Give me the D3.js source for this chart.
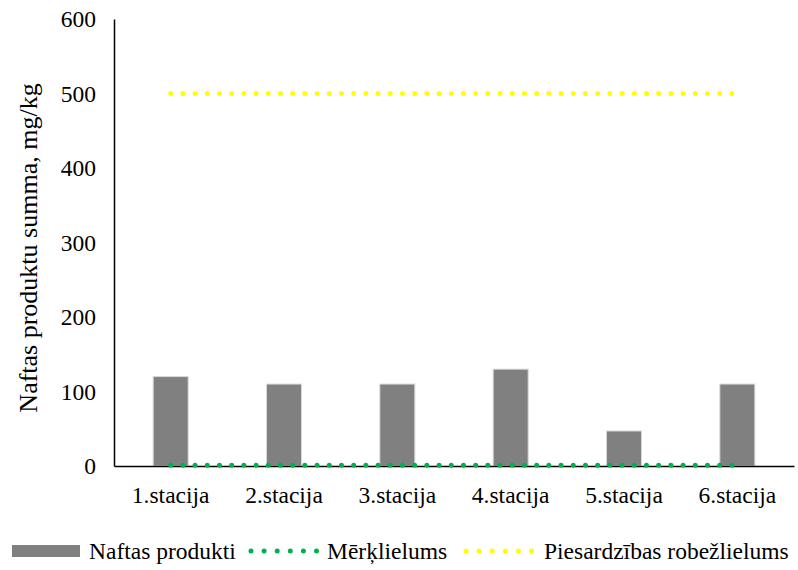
<!DOCTYPE html>
<html><head><meta charset="utf-8">
<script src="https://cdn.jsdelivr.net/npm/d3@7"></script>
<style>body{margin:0;background:#fff}svg{display:block}</style>
</head><body><svg id="c" width="798" height="570"></svg>
<script>
const categories = ["1.stacija","2.stacija","3.stacija","4.stacija","5.stacija","6.stacija"];
const naftasProdukti = [120,110,110,130,47,110];
const merklielums = [1,1,1,1,1,1];
const robezlielums = [500,500,500,500,500,500];
const yTicks = [0,100,200,300,400,500,600];
const seriesNames = ["Naftas produkti","Mērķlielums","Piesardzības robežlielums"];
const yLabel = "Naftas produktu summa, mg/kg";

const FF = "'Liberation Serif'";
const svg = d3.select("#c");
const m = {left:114, right:794, top:19, bottom:466};
const x = d3.scaleBand().domain(categories).range([m.left, m.right]).padding(0);
const y = d3.scaleLinear().domain([0,600]).range([m.bottom, m.top]);
const fs = 23.5;

// y axis
const ya = svg.append("g").attr("transform",`translate(${m.left},0)`)
  .call(d3.axisLeft(y).tickValues(yTicks).tickSize(0).tickPadding(18));
ya.select(".domain").attr("stroke","#000").attr("stroke-width",1.5);
ya.selectAll("text").attr("font-size",fs).attr("fill","#000").style("font-family",FF);

// bars
const bw = 35;
svg.append("g").selectAll("rect").data(naftasProdukti).join("rect")
  .attr("x",(d,i)=>x(categories[i])+x.bandwidth()/2-bw/2)
  .attr("width",bw)
  .attr("y",d=>y(d)).attr("height",d=>y(0)-y(d))
  .attr("fill","#808080").attr("stroke","#d9d9d9").attr("stroke-width",1);

// x axis
const xa = svg.append("g").attr("transform",`translate(0,${m.bottom})`)
  .call(d3.axisBottom(x).tickSize(0).tickPadding(20));
xa.select(".domain").attr("stroke","#000").attr("stroke-width",1.5);
xa.selectAll("text").attr("font-size",fs).attr("fill","#000").style("font-family",FF);

// lines
const line = d3.line().x((d,i)=>x(categories[i])+x.bandwidth()/2).y(d=>y(d));
svg.append("path").datum(robezlielums).attr("d",line).attr("fill","none")
  .attr("stroke","#ffff00").attr("stroke-width",5).attr("stroke-linecap","round").attr("stroke-dasharray","0 12.2");
svg.append("path").datum(merklielums).attr("d",line).attr("fill","none")
  .attr("stroke","#00b050").attr("stroke-width",5).attr("stroke-linecap","round").attr("stroke-dasharray","0 12.2");

// y label
svg.append("text").attr("transform","translate(37,248) rotate(-90)")
  .attr("text-anchor","middle").attr("font-size",26).style("font-family",FF).text(yLabel);

// legend
const lg = svg.append("g");
const ly = 551;
lg.append("rect").attr("x",12).attr("y",545).attr("width",68).attr("height",12).attr("fill","#808080");
lg.append("text").attr("x",89).attr("y",559).attr("font-size",fs).style("font-family",FF).text(seriesNames[0]);
lg.append("line").attr("x1",251).attr("x2",317).attr("y1",ly).attr("y2",ly)
  .attr("stroke","#00b050").attr("stroke-width",5).attr("stroke-linecap","round").attr("stroke-dasharray","0 13.1");
lg.append("text").attr("x",327).attr("y",559).attr("font-size",fs).style("font-family",FF).text(seriesNames[1]);
lg.append("line").attr("x1",466).attr("x2",532).attr("y1",ly).attr("y2",ly)
  .attr("stroke","#ffff00").attr("stroke-width",5).attr("stroke-linecap","round").attr("stroke-dasharray","0 13.1");
lg.append("text").attr("x",544).attr("y",559).attr("font-size",fs).style("font-family",FF).text(seriesNames[2]);
</script></body></html>
